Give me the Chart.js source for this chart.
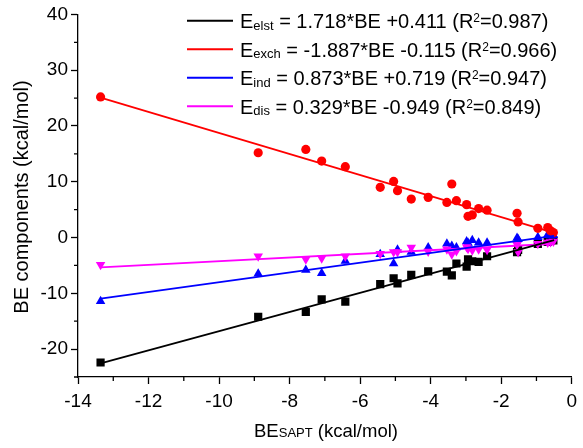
<!DOCTYPE html>
<html>
<head>
<meta charset="utf-8">
<script src="https://cdn.jsdelivr.net/npm/chart.js@4.4.1/dist/chart.umd.min.js"></script>
<style>
  html, body { margin: 0; padding: 0; background: #fff; }
  #c { display: block; }
</style>
</head>
<body>
<canvas id="c" width="583" height="448"></canvas>
<script>
// BE_SAPT values (x) shared by all four components
const beSapt = [-13.36, -8.89, -7.54, -7.09, -6.42, -5.43, -5.05, -4.94, -4.55, -4.07, -3.54, -3.40,
                -3.27, -2.98, -2.94, -2.82, -2.64, -2.40, -1.55, -1.52, -0.96, -0.68, -0.60, -0.52];
const eElst = [-22.4, -14.2, -13.35, -11.1, -11.5, -8.35, -7.3, -8.2, -6.7, -6.05, -6.1, -6.8,
               -4.65, -5.2, -3.9, -4.25, -4.35, -3.35, -2.6, -2.2, -1.15, -0.8, -0.6, -0.5];
const eExch = [25.2, 15.2, 15.8, 13.7, 12.7, 9.0, 10.05, 8.4, 6.9, 7.2, 6.3, 9.6,
               6.6, 5.9, 3.8, 4.05, 5.2, 4.9, 4.35, 2.8, 1.65, 1.8, 1.2, 0.9];
const eInd  = [-11.4, -6.5, -5.8, -6.4, -4.2, -3.0, -4.65, -2.2, -2.6, -1.8, -1.1, -1.5,
               -1.8, -0.7, -1.0, -0.5, -0.95, -0.95, -0.1, -0.3, 0.05, 0.5, 0.3, 0.4];
const eDis  = [-4.9, -3.35, -3.9, -3.7, -3.35, -2.9, -2.6, -2.6, -1.8, -2.5, -2.1, -3.0,
               -2.4, -1.7, -2.0, -2.3, -2.1, -2.2, -1.3, -2.6, -1.1, -0.9, -0.8, -0.7];

// fitted line end points
const fitX    = [-13.36, -0.5];
const fitElst = [-22.54, -0.45];
const fitExch = [25.1, 0.83];
const fitInd  = [-10.95, 0.28];
const fitDis  = [-5.35, -1.11];

const xMajor = [-14, -12, -10, -8, -6, -4, -2, 0];
const xMinor = [-13, -11, -9, -7, -5, -3, -1];
const yMajor = [-20, -10, 0, 10, 20, 30, 40];
const yMinor = [-25, -15, -5, 5, 15, 25, 35];

const legendRows = [
  { color: "#000000", sub: "elst", text: " = 1.718*BE +0.411 (R", r2: "=0.987)" },
  { color: "#ff0000", sub: "exch", text: " = -1.887*BE -0.115 (R", r2: "=0.966)" },
  { color: "#0000ff", sub: "ind",  text: " = 0.873*BE +0.719 (R", r2: "=0.947)" },
  { color: "#ff00ff", sub: "dis",  text: " = 0.329*BE -0.949 (R", r2: "=0.849)" },
];

const FONT = "'Liberation Sans', Arial, sans-serif";
const pts = (ys) => beSapt.map((x, i) => ({ x: x, y: ys[i] }));
const line = (ys) => fitX.map((x, i) => ({ x: x, y: ys[i] }));

// legend, axis titles and minor ticks drawn by hand
const extras = {
  id: "extras",
  afterDraw(chart) {
    const { ctx, scales } = chart;
    const xs = scales.x, ys = scales.y;
    ctx.save();
    ctx.strokeStyle = "#000";
    ctx.lineWidth = 1.3;
    // minor ticks
    ctx.beginPath();
    xMinor.forEach(v => {
      const px = xs.getPixelForValue(v);
      ctx.moveTo(px, ys.bottom); ctx.lineTo(px, ys.bottom + 4);
    });
    yMinor.forEach(v => {
      const py = ys.getPixelForValue(v);
      ctx.moveTo(xs.left, py); ctx.lineTo(xs.left - 4, py);
    });
    ctx.stroke();

    ctx.fillStyle = "#000";
    ctx.textBaseline = "alphabetic";

    // x title: BE with small SAPT
    const big = "18.5px " + FONT, small = "13px " + FONT;
    ctx.font = big; const wBE = ctx.measureText("BE").width;
    const wRest = ctx.measureText(" (kcal/mol)").width;
    ctx.font = small; const wS = ctx.measureText("SAPT").width;
    let tx = 326 - (wBE + wS + wRest) / 2;
    const ty = 437;
    ctx.textAlign = "left";
    ctx.font = big; ctx.fillText("BE", tx, ty); tx += wBE;
    ctx.font = small; ctx.fillText("SAPT", tx, ty); tx += wS;
    ctx.font = big; ctx.fillText(" (kcal/mol)", tx, ty);

    // y title
    ctx.save();
    ctx.translate(28, 197);
    ctx.rotate(-Math.PI / 2);
    ctx.textAlign = "center";
    ctx.font = "20px " + FONT;
    ctx.fillText("BE components (kcal/mol)", 0, 0);
    ctx.restore();

    // legend
    const lf = "20px " + FONT, sf = "13px " + FONT, rf = "12px " + FONT;
    legendRows.forEach((r, i) => {
      const y = 20.7 + i * 28.5;
      ctx.strokeStyle = r.color;
      ctx.lineWidth = 2;
      ctx.beginPath(); ctx.moveTo(187, y); ctx.lineTo(233, y); ctx.stroke();
      let x = 240;
      const base = y + 7.3;
      ctx.fillStyle = "#000";
      ctx.font = lf; ctx.fillText("E", x, base); x += ctx.measureText("E").width;
      ctx.font = sf; ctx.fillText(r.sub, x, base + 1.5); x += ctx.measureText(r.sub).width;
      ctx.font = lf; ctx.fillText(r.text, x, base); x += ctx.measureText(r.text).width;
      ctx.font = rf; ctx.fillText("2", x, base - 6); x += ctx.measureText("2").width;
      ctx.font = lf; ctx.fillText(r.r2, x, base);
    });
    ctx.restore();
  }
};

const fitLine = (ys, color) => ({
  data: line(ys), showLine: true, borderColor: color, borderWidth: 1.8,
  pointRadius: 0, fill: false,
});
const scatter = (ys, color, style, radius, rot) => ({
  data: pts(ys), showLine: false, pointStyle: style, pointRadius: radius,
  pointRotation: rot || 0, backgroundColor: color, borderColor: color, borderWidth: 0,
});

new Chart(document.getElementById("c"), {
  type: "scatter",
  data: {
    datasets: [
      fitLine(fitElst, "#000000"),
      fitLine(fitExch, "#ff0000"),
      fitLine(fitInd, "#0000ff"),
      fitLine(fitDis, "#ff00ff"),
      scatter(eExch, "#ff0000", "circle", 4.6),
      scatter(eDis, "#ff00ff", "triangle", 5.5, 180),
      scatter(eInd, "#0000ff", "triangle", 5.5),
      scatter(eElst, "#000000", "rect", 5.8),
    ],
  },
  options: {
    responsive: false,
    animation: false,
    layout: { padding: { top: 10, right: 11, left: 0, bottom: 0 } },
    plugins: { legend: { display: false }, tooltip: { enabled: false } },
    scales: {
      x: {
        type: "linear", min: -14, max: 0,
        afterFit: (s) => { s.height = 71; },
        afterBuildTicks: (s) => { s.ticks = xMajor.map(v => ({ value: v })); },
        grid: { drawOnChartArea: false, drawTicks: true, tickLength: 7, tickColor: "#000", tickWidth: 1.3 },
        border: { display: true, color: "#000", width: 1.3 },
        ticks: { color: "#000", font: { family: FONT, size: 19 }, padding: 6, maxRotation: 0 },
      },
      y: {
        type: "linear", min: -25, max: 40,
        afterFit: (s) => { s.width = 78; },
        afterBuildTicks: (s) => { s.ticks = yMajor.map(v => ({ value: v })); },
        grid: { drawOnChartArea: false, drawTicks: true, tickLength: 7, tickColor: "#000", tickWidth: 1.3 },
        border: { display: true, color: "#000", width: 1.3 },
        ticks: { color: "#000", font: { family: FONT, size: 19 }, padding: 3 },
      },
    },
  },
  plugins: [extras],
});
</script>
</body>
</html>
